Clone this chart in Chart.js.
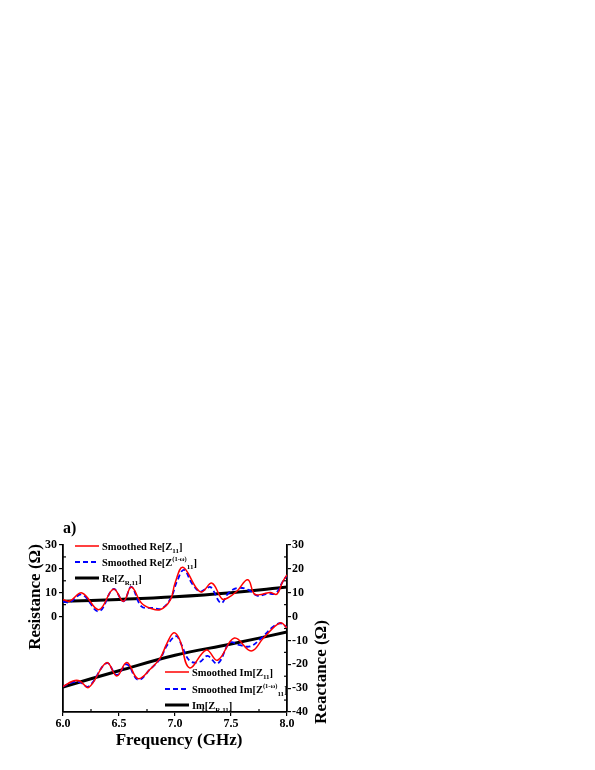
<!DOCTYPE html>
<html>
<head>
<meta charset="utf-8">
<script src="https://cdn.jsdelivr.net/npm/chart.js@4.4.0/dist/chart.umd.min.js"></script>
<style>
  html, body { margin: 0; padding: 0; background: #fff; }
</style>
</head>
<body>
<canvas id="chart" width="595" height="770"></canvas>
<script>
// ---------- datos ----------
// Re[Z11] suavizada (rojo)
const reRedFreq = [6.00, 6.06, 6.17, 6.32, 6.45, 6.54, 6.61, 6.70, 6.78, 6.87, 6.96, 7.00, 7.07, 7.19, 7.24, 7.33, 7.42, 7.47, 7.55, 7.65, 7.71, 7.78, 7.85, 7.91, 7.96, 8.00];
const reRedVal  = [7.1, 6.5, 9.9, 2.9, 11.5, 6.4, 12.4, 5.7, 3.5, 2.9, 7.1, 14.0, 20.7, 12.0, 10.3, 14.0, 7.4, 7.8, 10.5, 15.4, 9.4, 9.4, 10.1, 9.4, 14.5, 17.5];
// Re[Z^(1-w)11] suavizada (azul)
const reBlueFreq = [6.00, 6.06, 6.17, 6.32, 6.45, 6.54, 6.61, 6.70, 6.80, 6.88, 6.96, 7.02, 7.08, 7.15, 7.22, 7.27, 7.32, 7.41, 7.48, 7.56, 7.65, 7.74, 7.82, 7.90, 7.96, 8.00];
const reBlueVal  = [6.3, 6.0, 9.2, 2.2, 11.5, 6.4, 12.4, 4.3, 3.6, 3.4, 7.5, 15.0, 19.6, 14.0, 10.5, 11.4, 12.3, 5.7, 10.0, 12.0, 11.3, 8.7, 9.6, 9.8, 14.5, 17.2];
// Re[Z_R,11] (negro)
const reBlackFreq = [6.0, 6.5, 7.0, 7.5, 8.0];
const reBlackVal  = [6.4, 7.2, 8.3, 10.0, 12.4];

// Im[Z11] suavizada (rojo)
const imRedFreq = [6.00, 6.09, 6.15, 6.23, 6.39, 6.48, 6.57, 6.67, 6.78, 6.87, 6.93, 6.99, 7.04, 7.13, 7.28, 7.38, 7.53, 7.68, 7.79, 7.94, 8.00];
const imRedVal  = [-29.3, -27.0, -27.0, -29.7, -19.3, -24.9, -19.3, -26.0, -22.0, -17.2, -11.0, -6.8, -9.5, -21.5, -14.0, -18.3, -9.0, -14.4, -9.0, -2.6, -4.7];
// Im[Z^(1-w)11] suavizada (azul)
const imBlueFreq = [6.00, 6.09, 6.15, 6.23, 6.39, 6.48, 6.57, 6.67, 6.78, 6.87, 6.93, 7.01, 7.05, 7.13, 7.22, 7.29, 7.38, 7.49, 7.58, 7.67, 7.76, 7.87, 7.94, 8.00];
const imBlueVal  = [-29.3, -27.5, -27.5, -29.3, -19.5, -24.5, -20.0, -26.5, -22.0, -17.5, -12.0, -8.2, -11.0, -18.5, -19.0, -16.5, -19.7, -11.0, -12.0, -12.5, -9.5, -4.5, -2.8, -4.5];
// Im[Z_R,11] (negro)
const imBlackFreq = [6.0, 6.5, 7.0, 7.5, 8.0];
const imBlackVal  = [-29.5, -22.7, -16.2, -11.5, -6.5];

// ejes
const xTicks = [6.0, 6.5, 7.0, 7.5, 8.0];
const yMin = -40, yMax = 30, yStep = 10;

const SERIF = '"Liberation Serif", "Times New Roman", serif';

function pts(f, v){ return f.map((x,i)=>({x: x, y: v[i]})); }

function lineDs(label, f, v, axis, color, width, dash){
  return {
    label, data: pts(f, v), yAxisID: axis,
    borderColor: color, borderWidth: width, borderDash: dash || [],
    pointRadius: 0, fill: false, tension: 0.4
  };
}

// ---------- plugin: ticks menores, leyendas y títulos ----------
function richText(ctx, x, y, parts){
  parts.forEach(p=>{
    let size = 10.5, dy = 0;
    if (p[1] === 'sub'){ size = 7; dy = 3; }
    if (p[1] === 'sup'){ size = 6.5; dy = -5; }
    ctx.font = 'bold ' + size + 'px ' + SERIF;
    ctx.fillText(p[0], x, y + dy);
    x += ctx.measureText(p[0]).width;
  });
}

function legendRow(ctx, x0, x1, y, color, width, dash, parts){
  ctx.save();
  ctx.strokeStyle = color; ctx.lineWidth = width; ctx.setLineDash(dash);
  ctx.beginPath(); ctx.moveTo(x0, y); ctx.lineTo(x1, y); ctx.stroke();
  ctx.restore();
  ctx.fillStyle = '#000'; ctx.textBaseline = 'alphabetic'; ctx.textAlign = 'left';
  richText(ctx, x1 + 3, y + 4, parts);
}

const decor = {
  id: 'decor',
  afterDraw(chart){
    const ctx = chart.ctx;
    const xs = chart.scales.x, yl = chart.scales.yRe, yr = chart.scales.yIm;
    const area = chart.chartArea;
    ctx.save();
    ctx.strokeStyle = '#000'; ctx.lineWidth = 1.2;
    // ticks menores del eje x (hacia dentro)
    for (let v = 6.25; v < 8; v += 0.5){
      const px = xs.getPixelForValue(v);
      ctx.beginPath(); ctx.moveTo(px, area.bottom); ctx.lineTo(px, area.bottom - 3); ctx.stroke();
    }
    // ticks menores de los ejes y
    for (let v = yMin + 5; v < yMax; v += 10){
      const pl = yl.getPixelForValue(v);
      if (v > 0){ ctx.beginPath(); ctx.moveTo(area.left, pl); ctx.lineTo(area.left + 3, pl); ctx.stroke(); }
      const pr = yr.getPixelForValue(v);
      ctx.beginPath(); ctx.moveTo(area.right, pr); ctx.lineTo(area.right - 3, pr); ctx.stroke();
    }
    ctx.restore();

    // leyenda superior
    legendRow(ctx, 75, 99, 546, '#ff0000', 1.5, [], [['Smoothed Re[Z','n'],['11','sub'],[']','n']]);
    legendRow(ctx, 75, 99, 562, '#0000ff', 1.8, [5,3], [['Smoothed Re[Z','n'],['(1-\u03c9)','sup'],['11','sub'],[']','n']]);
    legendRow(ctx, 75, 99, 578, '#000', 3, [], [['Re[Z','n'],['R,11','sub'],[']','n']]);
    // leyenda inferior
    legendRow(ctx, 165, 189, 672, '#ff0000', 1.5, [], [['Smoothed Im[Z','n'],['11','sub'],[']','n']]);
    legendRow(ctx, 165, 189, 689, '#0000ff', 1.8, [5,3], [['Smoothed Im[Z','n'],['(1-\u03c9)','sup'],['11','sub'],[']','n']]);
    legendRow(ctx, 165, 189, 705, '#000', 3, [], [['Im[Z','n'],['R,11','sub'],[']','n']]);

    // títulos
    ctx.save();
    ctx.fillStyle = '#000';
    ctx.font = 'bold 16px ' + SERIF;
    ctx.textAlign = 'left'; ctx.textBaseline = 'alphabetic';
    ctx.fillText('a)', 63, 533);
    ctx.font = 'bold 17px ' + SERIF;
    ctx.textAlign = 'center';
    ctx.fillText('Frequency (GHz)', 179, 745);
    ctx.textBaseline = 'middle';
    ctx.translate(36, 597); ctx.rotate(-Math.PI/2);
    ctx.fillText('Resistance (\u03a9)', 0, 0);
    ctx.restore();
    ctx.save();
    ctx.fillStyle = '#000';
    ctx.font = 'bold 17px ' + SERIF;
    ctx.textAlign = 'center'; ctx.textBaseline = 'middle';
    ctx.translate(322, 672); ctx.rotate(-Math.PI/2);
    ctx.fillText('Reactance (\u03a9)', 0, 0);
    ctx.restore();
  }
};

const tickFont = { family: SERIF, size: 12, weight: 'bold' };
const axisGrid = { drawOnChartArea: false, tickLength: 4, color: '#000', lineWidth: 1.2 };
const axisBorder = { display: true, color: '#000', width: 1.8 };

new Chart(document.getElementById('chart'), {
  type: 'line',
  data: {
    datasets: [
      lineDs('Smoothed Re[Z11]', reRedFreq, reRedVal, 'yRe', '#ff0000', 1.5),
      lineDs('Smoothed Re[Z(1-w)11]', reBlueFreq, reBlueVal, 'yRe', '#0000ff', 1.8, [5,3]),
      lineDs('Smoothed Im[Z11]', imRedFreq, imRedVal, 'yIm', '#ff0000', 1.5),
      lineDs('Smoothed Im[Z(1-w)11]', imBlueFreq, imBlueVal, 'yIm', '#0000ff', 1.8, [5,3]),
      lineDs('Re[ZR,11]', reBlackFreq, reBlackVal, 'yRe', '#000000', 3),
      lineDs('Im[ZR,11]', imBlackFreq, imBlackVal, 'yIm', '#000000', 3)
    ]
  },
  options: {
    responsive: false,
    animation: false,
    devicePixelRatio: 1,
    layout: { padding: { top: 545, right: 248, bottom: 18, left: 0 } },
    plugins: { legend: { display: false }, tooltip: { enabled: false } },
    scales: {
      x: {
        type: 'linear', position: 'bottom', min: 6, max: 8,
        afterBuildTicks: s => { s.ticks = xTicks.map(v => ({ value: v })); },
        afterFit: s => { s.height = 40; },
        ticks: { color: '#000', font: tickFont, padding: 1, maxRotation: 0,
                 callback: v => Number(v).toFixed(1) },
        grid: axisGrid, border: axisBorder
      },
      yRe: {
        type: 'linear', position: 'left', min: yMin, max: yMax,
        afterFit: s => { s.width = 63; },
        ticks: { stepSize: yStep, color: '#000', font: tickFont, padding: 2,
                 callback: v => v < 0 ? null : v },
        grid: axisGrid, border: axisBorder
      },
      yIm: {
        type: 'linear', position: 'right', min: yMin, max: yMax,
        afterFit: s => { s.width = 60; },
        ticks: { stepSize: yStep, color: '#000', font: tickFont, padding: 1 },
        grid: axisGrid, border: axisBorder
      }
    }
  },
  plugins: [decor]
});
</script>
</body>
</html>
